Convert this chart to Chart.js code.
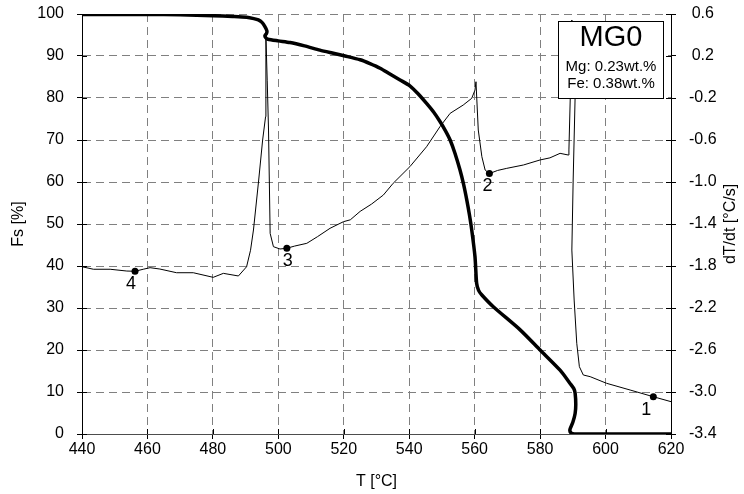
<!DOCTYPE html>
<html>
<head>
<meta charset="utf-8">
<script src="https://cdn.jsdelivr.net/npm/chart.js@4.4.1/dist/chart.umd.min.js"></script>
<style>
  html, body { margin: 0; padding: 0; background: #fff; }
  canvas { display: block; }
</style>
</head>
<body>
<canvas id="c" width="744" height="494"></canvas>
<script>
// Solid fraction Fs [%] versus temperature T [°C]
const fsTemp = [440.0, 460.0, 470.0, 480.1, 486.0, 490.3, 492.5, 493.9, 495.0, 495.9, 496.5, 496.4,
  495.9, 496.2, 496.8, 500.0, 503.6, 508.0, 512.7, 516.5, 520.4, 525.0, 528.0, 531.1, 534.1, 537.2,
  540.2, 542.7, 545.3, 547.5, 549.4, 551.0, 552.5, 554.0, 555.5, 556.6, 557.6, 558.4, 559.1, 560.1,
  560.6, 561.2, 562.2, 565.7, 573.9, 580.0, 586.1, 589.1, 590.3, 590.7, 590.9, 590.7, 590.0, 589.1,
  589.5, 590.5, 620.0];
const fsValue = [99.9, 99.9, 99.8, 99.6, 99.4, 99.2, 98.9, 98.6, 98.0, 97.0, 96.0, 95.4,
  94.8, 94.3, 94.0, 93.6, 93.2, 92.4, 91.4, 90.7, 90.0, 89.1, 88.2, 87.1, 85.7, 84.3,
  82.9, 81.0, 78.7, 76.6, 74.4, 72.3, 70.0, 66.8, 62.9, 59.5, 55.7, 52.2, 48.6, 42.2,
  35.9, 34.2, 33.1, 30.3, 24.8, 20.0, 15.2, 12.1, 10.8, 9.7, 7.0, 4.9, 2.8, 1.0,
  0.2, 0.0, 0.0];

// Cooling rate dT/dt [°C/s] versus temperature T [°C]
const rateTemp = [440.0, 443.5, 448.6, 453.7, 456.2, 458.7, 460.8, 463.8, 468.9, 474.0, 480.1, 483.2,
  487.8, 490.3, 491.5, 492.4, 494.0, 495.2, 496.1, 496.2, 496.6, 497.0, 497.5, 498.5, 500.5, 502.6,
  505.0, 508.7, 512.0, 515.8, 519.9, 522.0, 525.0, 528.5, 532.1, 535.1, 540.2, 545.3, 549.4, 552.5,
  556.5, 559.1, 560.1, 560.4, 561.1, 562.2, 563.2, 564.5, 567.0, 569.8, 574.9, 580.0, 583.0, 586.1,
  588.6, 588.8, 589.3, 589.7, 590.2, 590.7, 590.1, 589.7, 590.4, 591.2, 592.0, 593.2, 595.3, 600.3,
  607.5, 614.6, 620.0];
const rateValue = [-1.807, -1.831, -1.831, -1.848, -1.850, -1.831, -1.816, -1.829, -1.864, -1.864, -1.908, -1.870,
  -1.895, -1.807, -1.650, -1.457, -0.981, -0.600, -0.378, 0.390, -0.030, -0.505, -1.489, -1.616, -1.638, -1.631,
  -1.610, -1.584, -1.520, -1.441, -1.378, -1.360, -1.280, -1.210, -1.124, -1.012, -0.854, -0.664, -0.473, -0.346,
  -0.267, -0.203, -0.124, -0.045, -0.505, -0.759, -0.886, -0.920, -0.890, -0.870, -0.838, -0.790, -0.770, -0.727,
  -0.743, -0.695, -0.095, 0.543, 0.162, -0.190, -0.981, -1.648, -2.124, -2.536, -2.759, -2.838, -2.854, -2.917,
  -2.981, -3.045, -3.092];

// Numbered points on the cooling-rate curve
const pointNames = ['1', '2', '3', '4'];
const pointTemp = [614.6, 564.5, 502.6, 456.2];
const pointRate = [-3.045, -0.920, -1.631, -1.850];

// Axis ticks
const tempTicks = [440, 460, 480, 500, 520, 540, 560, 580, 600, 620];
const fsTicks = [0, 10, 20, 30, 40, 50, 60, 70, 80, 90, 100];
const rateTicks = [-3.4, -3.0, -2.6, -2.2, -1.8, -1.4, -1.0, -0.6, -0.2, 0.2, 0.6];

// Alloy caption
const alloyName = 'MG0';
const alloyLines = ['Mg: 0.23wt.%', 'Fe: 0.38wt.%'];

const FONT = "'Liberation Sans', Arial, sans-serif";
Chart.defaults.font.family = FONT;
Chart.defaults.font.size = 16;
Chart.defaults.color = '#000';

const zip = (xs, ys) => xs.map((x, i) => ({ x, y: ys[i] }));
const setTicks = list => scale => { scale.ticks = list.map(v => ({ value: v })); };
// fixed box sizes, no extra room reserved for overhanging end labels
const fixWidth = w => s => { s.width = w; s.paddingTop = 0; s.paddingBottom = 0; };
const fixHeight = h => s => { s.height = h; s.paddingLeft = 0; s.paddingRight = 0; };

// short tick marks on the inner side of each axis
const innerTicks = {
  id: 'innerTicks',
  afterDraw(chart) {
    const { ctx, chartArea: a, scales } = chart;
    const len = 5;
    ctx.save();
    ctx.strokeStyle = '#000';
    ctx.lineWidth = 1;
    ctx.beginPath();
    fsTicks.forEach(v => {
      const p = Math.round(scales.y.getPixelForValue(v)) + 0.5;
      ctx.moveTo(a.left, p); ctx.lineTo(a.left + len, p);
    });
    rateTicks.forEach(v => {
      const p = Math.round(scales.y2.getPixelForValue(v)) + 0.5;
      ctx.moveTo(a.right - len, p); ctx.lineTo(a.right, p);
    });
    tempTicks.forEach(v => {
      const p = Math.round(scales.x.getPixelForValue(v)) + 0.5;
      ctx.moveTo(p, a.bottom - len); ctx.lineTo(p, a.bottom);
    });
    ctx.stroke();
    ctx.restore();
  }
};

// numbers beside the marked points
const labelOffsets = [[-7, 13], [-2, 12], [1, 13], [-4, 13]];
const pointLabels = {
  id: 'pointLabels',
  afterDatasetsDraw(chart) {
    const meta = chart.getDatasetMeta(0);
    const { ctx } = chart;
    ctx.save();
    ctx.fillStyle = '#000';
    ctx.font = `18px ${FONT}`;
    ctx.textAlign = 'center';
    ctx.textBaseline = 'middle';
    meta.data.forEach((el, i) => {
      ctx.fillText(pointNames[i], el.x + labelOffsets[i][0], el.y + labelOffsets[i][1]);
    });
    ctx.restore();
  }
};

// caption box in the upper right corner
const captionBox = {
  id: 'captionBox',
  afterDatasetsDraw(chart) {
    const { ctx } = chart;
    const bx = 558.5, by = 21.5, bw = 105, bh = 77;
    ctx.save();
    ctx.fillStyle = '#fff';
    ctx.fillRect(bx, by, bw, bh);
    ctx.strokeStyle = '#000';
    ctx.lineWidth = 1;
    ctx.strokeRect(bx, by, bw, bh);
    ctx.fillStyle = '#000';
    ctx.textAlign = 'center';
    ctx.textBaseline = 'middle';
    const cx = bx + bw / 2;
    ctx.font = `29px ${FONT}`;
    ctx.fillText(alloyName, cx, 38);
    ctx.font = `15px ${FONT}`;
    ctx.fillText(alloyLines[0], cx, 67);
    ctx.fillText(alloyLines[1], cx, 84);
    ctx.restore();
  }
};

// right axis title, reading bottom to top
const rightTitle = {
  id: 'rightTitle',
  afterDraw(chart) {
    const { ctx, chartArea: a } = chart;
    ctx.save();
    ctx.translate(731, (a.top + a.bottom) / 2);
    ctx.rotate(-Math.PI / 2);
    ctx.fillStyle = '#000';
    ctx.font = `16px ${FONT}`;
    ctx.textAlign = 'center';
    ctx.textBaseline = 'middle';
    ctx.fillText('dT/dt [°C/s]', 0, 0);
    ctx.restore();
  }
};

const gridColor = '#808080';
const gridDash = [8, 5];

new Chart(document.getElementById('c'), {
  type: 'scatter',
  data: {
    datasets: [
      {
        data: zip(pointTemp, pointRate),
        yAxisID: 'y2',
        showLine: false,
        pointRadius: 3.5,
        pointBackgroundColor: '#000',
        pointBorderColor: '#000',
        pointBorderWidth: 0
      },
      {
        data: zip(fsTemp, fsValue),
        yAxisID: 'y',
        showLine: true,
        borderColor: '#000',
        borderWidth: 3.5,
        pointRadius: 0,
        tension: 0.25,
        borderJoinStyle: 'round',
        borderCapStyle: 'round'
      },
      {
        data: zip(rateTemp, rateValue),
        yAxisID: 'y2',
        showLine: true,
        borderColor: '#000',
        borderWidth: 1,
        pointRadius: 0,
        tension: 0
      }
    ]
  },
  options: {
    responsive: false,
    animation: false,
    events: [],
    layout: { padding: { top: 14, left: 0, right: 0, bottom: 0 } },
    plugins: { legend: { display: false }, tooltip: { enabled: false } },
    scales: {
      x: {
        type: 'linear',
        position: 'bottom',
        min: 440,
        max: 620,
        afterBuildTicks: setTicks(tempTicks),
        afterFit: fixHeight(60),
        grid: { color: gridColor, lineWidth: 1, tickColor: '#000', tickLength: 5 },
        border: { color: '#4d4d4d', width: 1, dash: gridDash },
        ticks: { padding: 1, maxRotation: 0, autoSkip: false, callback: v => String(v) },
        title: { display: true, text: 'T [°C]', padding: { top: 0, bottom: 3 } }
      },
      y: {
        type: 'linear',
        position: 'left',
        min: 0,
        max: 100,
        afterBuildTicks: setTicks(fsTicks),
        afterFit: fixWidth(82),
        grid: { color: gridColor, lineWidth: 1, tickColor: '#000', tickLength: 5 },
        border: { color: '#000', width: 1, dash: gridDash },
        ticks: { padding: 13, autoSkip: false, callback: v => String(v) },
        title: { display: true, text: 'Fs [%]', padding: { top: 9, bottom: 0 } }
      },
      y2: {
        type: 'linear',
        position: 'right',
        min: -3.4,
        max: 0.6,
        afterBuildTicks: setTicks(rateTicks),
        afterFit: fixWidth(73),
        grid: { drawOnChartArea: false, drawTicks: true, tickColor: '#000', tickLength: 5 },
        border: { color: '#000', width: 1 },
        ticks: { padding: 13, crossAlign: 'center', autoSkip: false, callback: v => v.toFixed(1) }
      }
    }
  },
  plugins: [innerTicks, pointLabels, captionBox, rightTitle]
});
</script>
</body>
</html>
